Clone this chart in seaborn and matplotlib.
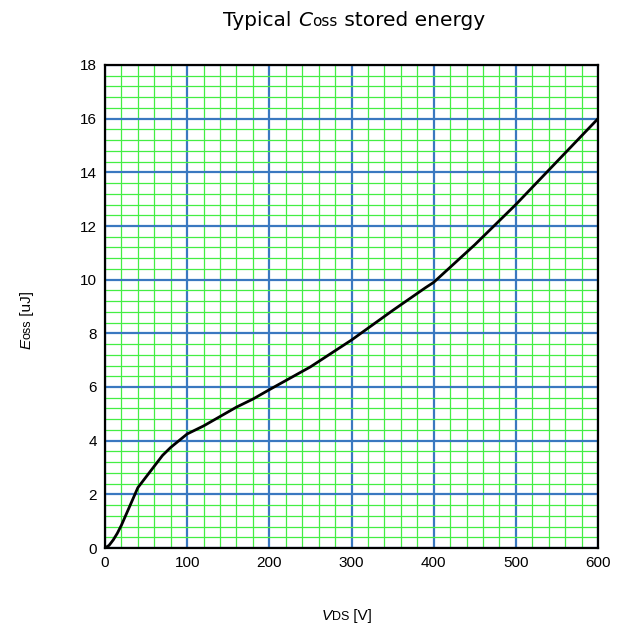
"""
Typical Coss stored energy vs VDS
"""

import numpy as np
import pandas as pd
import matplotlib
matplotlib.use('Agg')
import matplotlib.pyplot as plt
import seaborn as sns
from matplotlib.ticker import MultipleLocator

# Dados
vds = [0, 5, 10, 15, 20, 25, 30, 35, 40, 50, 60, 70, 80, 90, 100, 120, 140, 160,
       180, 200, 250, 300, 350, 390, 400, 450, 500, 550, 600]
eoss = [0.0, 0.1, 0.3, 0.55, 0.85, 1.2, 1.55, 1.9, 2.25, 2.65, 3.05, 3.45, 3.75,
        4.0, 4.25, 4.55, 4.9, 5.25, 5.55, 5.9, 6.75, 7.75, 8.85, 9.7, 9.9,
        11.3, 12.8, 14.4, 16.0]

xticks = [0, 100, 200, 300, 400, 500, 600]
yticks = [0, 2, 4, 6, 8, 10, 12, 14, 16, 18]

df = pd.DataFrame({'vds': vds, 'eoss': eoss})

sns.set_style('white')
plt.rcParams['font.family'] = ['Liberation Sans', 'DejaVu Sans']
plt.rcParams['text.color'] = 'black'
plt.rcParams['xtick.color'] = 'black'
plt.rcParams['ytick.color'] = 'black'

fig = plt.figure(figsize=(6.27, 6.30), dpi=100)
ax = fig.add_axes([105 / 627, 82 / 630, 493 / 627, 483 / 630])

sns.lineplot(data=df, x='vds', y='eoss', color='black', linewidth=2, ax=ax, zorder=5)

ax.set_xlim(0, 600)
ax.set_ylim(0, 18)
ax.set_xticks(xticks)
ax.set_yticks(yticks)
ax.xaxis.set_minor_locator(MultipleLocator(20))
ax.yaxis.set_minor_locator(MultipleLocator(0.4))
ax.grid(which='minor', color='#44ee44', linewidth=0.9)
ax.grid(which='major', color='#3a78c0', linewidth=1.6)
ax.set_axisbelow(True)
ax.tick_params(which='both', length=0, labelsize=11, pad=6, colors='black')
for s in ax.spines.values():
    s.set_color('black')
    s.set_linewidth(1.6)
    s.set_zorder(6)
ax.set_xlabel('')
ax.set_ylabel('')


def texto_composto(fig, partes, x, y, rotacao=0, familia=None):
    """Escreve pedaços de texto com tamanhos/estilos diferentes na mesma linha de base."""
    r = fig.canvas.get_renderer()
    kw = {'family': familia} if familia else {}
    larguras = []
    for s, tam, estilo in partes:
        t = fig.text(0, 0, s, fontsize=tam, style=estilo, **kw)
        larguras.append(t.get_window_extent(r).width)
        t.remove()
    total = sum(larguras)
    d = np.array([np.cos(np.radians(rotacao)), np.sin(np.radians(rotacao))])
    p = np.array([x, y]) - d * total / 2
    for (s, tam, estilo), w in zip(partes, larguras):
        fig.text(p[0] / 627, p[1] / 630, s, fontsize=tam, style=estilo,
                 rotation=rotacao, rotation_mode='anchor',
                 ha='left', va='baseline', color='black', **kw)
        p = p + d * w


fig.canvas.draw()
fonte_titulo = 14.5
texto_composto(fig, [('Typical ', fonte_titulo, 'normal'),
                     ('C', fonte_titulo, 'italic'),
                     ('oss', 11, 'normal'),
                     (' stored energy', fonte_titulo, 'normal')],
               354, 630 - 26, familia='DejaVu Sans')
texto_composto(fig, [('V', 11, 'italic'), ('DS', 9, 'normal'), (' [V]', 11, 'normal')],
               347, 630 - 620)
texto_composto(fig, [('E', 11, 'italic'), ('oss', 9, 'normal'), (' [uJ]', 11, 'normal')],
               31, 630 - 320, rotacao=90)

fig.savefig('out.png', dpi=100)
